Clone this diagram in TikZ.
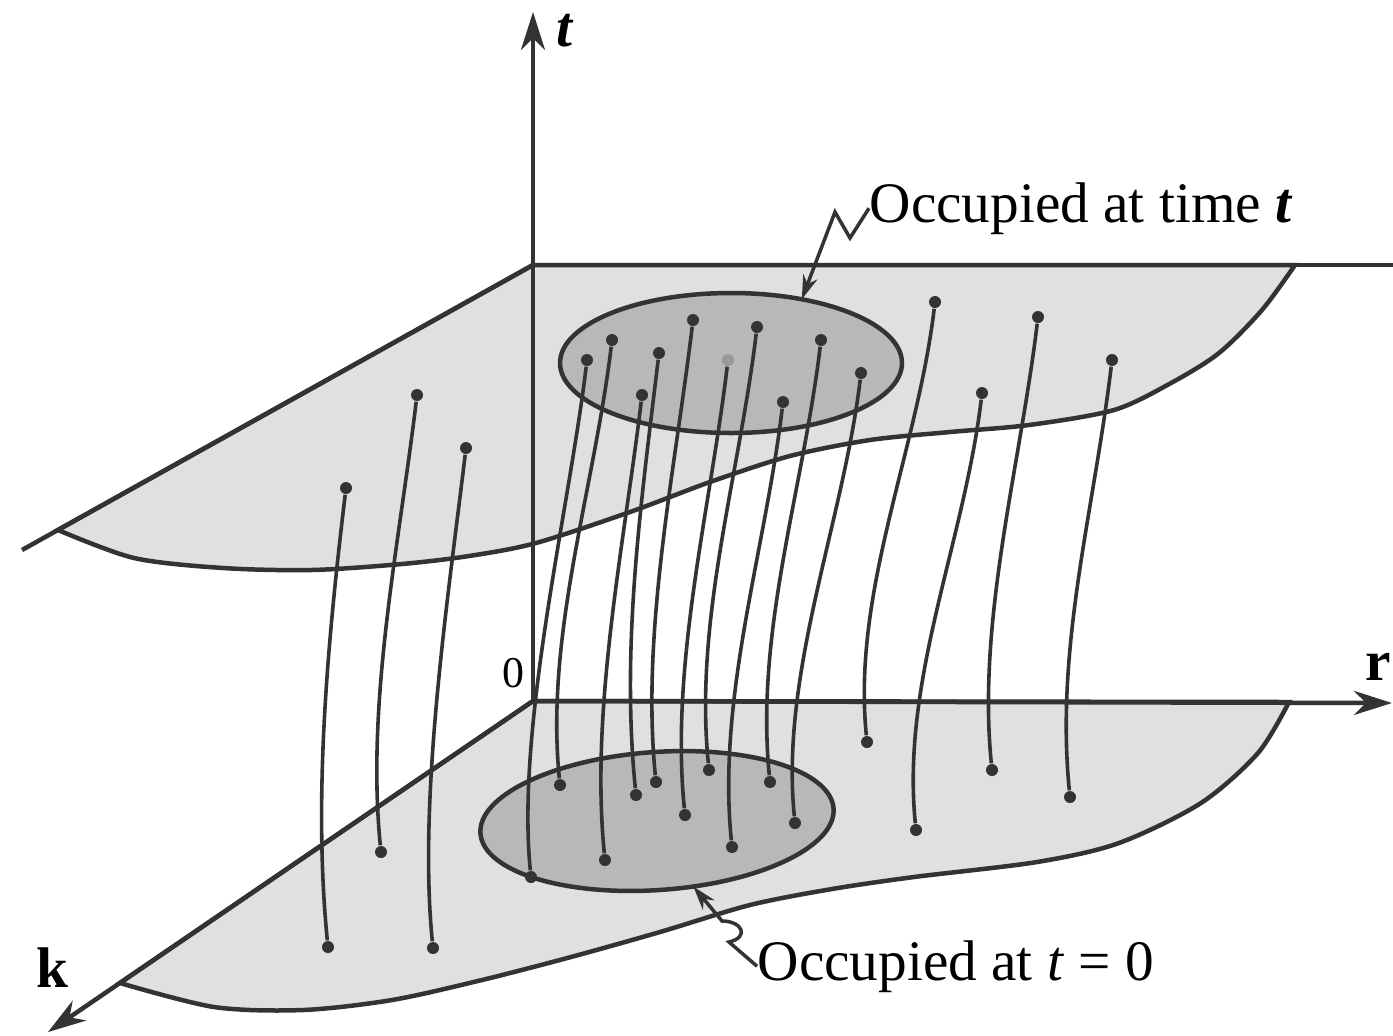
\documentclass[tikz,border=0pt]{standalone}
\usepackage{fontspec}
\setmainfont{Liberation Serif}
\usetikzlibrary{arrows.meta, shapes.geometric}

\begin{document}
\begin{tikzpicture}[
  x=0.1mm, y=-0.1mm,
  ink/.style={draw=black!80, line width=0.45mm},
  plane/.style={ink, fill=black!12},
  occ/.style={ellipse, draw=black!80, line width=0.45mm, fill=black!28,
              inner sep=0pt, outer sep=0pt},
  dot/.style={circle, fill=black!80, inner sep=0pt, minimum size=1.2mm},
  traj/.style={draw=black!80, line width=0.36mm},
  axis/.style={ink, -{Stealth[length=3.8mm, width=2.4mm, inset=1.2mm]}},
  lbl/.style={font=\fontsize{16.3}{19}\selectfont, inner sep=0pt},
  ptr/.style={draw=black!80, line width=0.35mm, -{Stealth[length=2.4mm, width=1.5mm]}}
]
\useasboundingbox (0,0) rectangle (1393,1035);
\fill[white] (0,0) rectangle (1393,1035);

% axes end points
\coordinate (o) at (533,701);
\coordinate (c) at (533,265);
\coordinate (ttip) at (533,12);
\coordinate (rtip) at (1392,703);
\coordinate (ktip) at (48,1032);

% plane at time t
\filldraw[plane] (c) -- plot[smooth] coordinates {(1295,265) (1262,310) (1219,353)
  (1171,383) (1114,410) (1029,425) (950,432) (870,440) (790,456) (710,482)
  (630,512) (536,543) (469,556) (402,564) (312,570) (223,568) (134,558) (58,530)} -- cycle;
\draw[ink] (c) -- (1393,265);
\draw[ink] (c) -- (22,550);

% plane at t = 0
\filldraw[plane] (o) -- plot[smooth] coordinates {(1289,702) (1258,753) (1201,803)
  (1119,843) (1037,862) (914,877) (832,889) (750,905) (660,932) (571,957)
  (482,980) (392,1000) (303,1010) (214,1007) (120,983)} -- cycle;

% occupied regions
\node[occ, minimum width=34.2mm, minimum height=14mm] (occt) at (731,363) {};
\node[occ, minimum width=35.4mm, minimum height=13.8mm, rotate=4] (occ0) at (657,821) {};

% particles: end points
\node[dot] (u1) at (346,488) {};   \node[dot] (l1) at (328,947) {};
\node[dot] (u2) at (417,395) {};   \node[dot] (l2) at (381,852) {};
\node[dot] (u3) at (466,448) {};   \node[dot] (l3) at (433,948) {};
\node[dot] (u4) at (587,360) {};   \node[dot] (l4) at (531,877) {};
\node[dot] (u5) at (612,340) {};   \node[dot] (l5) at (560,785) {};
\node[dot] (u6) at (642,395) {};   \node[dot] (l6) at (605,860) {};
\node[dot] (u7) at (659,353) {};   \node[dot] (l7) at (636,795) {};
\node[dot] (u8) at (693,320) {};   \node[dot] (l8) at (656,782) {};
\node[dot, fill=black!40] (u9) at (728,360) {};   \node[dot] (l9) at (685,815) {};
\node[dot] (u10) at (757,327) {};  \node[dot] (l10) at (709,770) {};
\node[dot] (u11) at (783,402) {};  \node[dot] (l11) at (732,847) {};
\node[dot] (u12) at (821,340) {};  \node[dot] (l12) at (770,782) {};
\node[dot] (u13) at (861,373) {};  \node[dot] (l13) at (795,823) {};
\node[dot] (u14) at (935,302) {};  \node[dot] (l14) at (867,742) {};
\node[dot] (u15) at (982,393) {};  \node[dot] (l15) at (916,830) {};
\node[dot] (u16) at (1038,317) {}; \node[dot] (l16) at (992,770) {};
\node[dot] (u17) at (1112,360) {}; \node[dot] (l17) at (1070,797) {};

% particle paths
\draw[traj] (u1) .. controls +(-18,150) and +(-15,-150) .. (l1);
\draw[traj] (u2) .. controls +(-18,150) and +(-15,-150) .. (l2);
\draw[traj] (u3) .. controls +(-18,150) and +(-15,-150) .. (l3);
\draw[traj] (u4) .. controls +(-18,150) and +(-15,-150) .. (l4);
\draw[traj] (u5) .. controls +(-18,150) and +(-15,-150) .. (l5);
\draw[traj] (u6) .. controls +(-18,150) and +(-15,-150) .. (l6);
\draw[traj] (u7) .. controls +(-18,150) and +(-15,-150) .. (l7);
\draw[traj] (u8) .. controls +(-18,150) and +(-15,-150) .. (l8);
\draw[traj] (u9) .. controls +(-18,150) and +(-15,-150) .. (l9);
\draw[traj] (u10) .. controls +(-18,150) and +(-15,-150) .. (l10);
\draw[traj] (u11) .. controls +(-18,150) and +(-15,-150) .. (l11);
\draw[traj] (u12) .. controls +(-18,150) and +(-15,-150) .. (l12);
\draw[traj] (u13) .. controls +(-18,150) and +(-15,-150) .. (l13);
\draw[traj] (u14) .. controls +(-18,150) and +(-15,-150) .. (l14);
\draw[traj] (u15) .. controls +(-18,150) and +(-15,-150) .. (l15);
\draw[traj] (u16) .. controls +(-18,150) and +(-15,-150) .. (l16);
\draw[traj] (u17) .. controls +(-18,150) and +(-15,-150) .. (l17);

% axes
\draw[axis] (o) -- (ttip);
\draw[axis] (o) -- (rtip);
\draw[axis] (o) -- (ktip);

\node[lbl] (tlbl) at (565,31) {\textbf{\textit{t}}};
\node[lbl] (rlbl) at (1378,667) {\textbf{r}};
\node[lbl] (klbl) at (52,968) {\textbf{k}};
\node[lbl, font=\fontsize{12.5}{15}\selectfont] (olbl) at (513,673) {0};

% labels with pointers
\node[lbl, anchor=base west] (txtt) at (869,222) {Occupied at time \textbf{\textit{t}}};
\node[lbl, anchor=base west] (txt0) at (757,980) {Occupied at \textit{t} = 0};
\draw[ptr] (txtt.west) -- (850,238) -- (835,212) -- (occt.42);
\draw[ptr] (txt0.west) -- (729,942) .. controls (750,937) and (742,921) .. (722,921)
  -- (occ0.-65);

\end{tikzpicture}
\end{document}
